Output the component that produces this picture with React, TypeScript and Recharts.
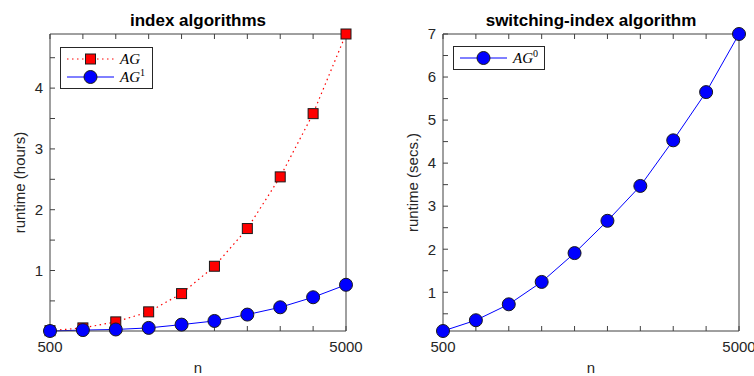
import { Label, Legend, Line, LineChart, XAxis, YAxis } from "recharts";

const nValues = [500, 1000, 1500, 2000, 2500, 3000, 3500, 4000, 4500, 5000];
const agHours = [0.01, 0.056, 0.155, 0.32, 0.62, 1.07, 1.69, 2.54, 3.58, 4.89];
const ag1Hours = [0.005, 0.02, 0.03, 0.056, 0.11, 0.17, 0.275, 0.395, 0.56, 0.765];
const ag0Secs = [0.1, 0.35, 0.72, 1.24, 1.91, 2.66, 3.47, 4.53, 5.65, 7.0];

const nLabels = [500, 5000];
const hourTicks = [0.5, 1, 1.5, 2, 2.5, 3, 3.5, 4, 4.5];
const secTicks = [0.5, 1, 1.5, 2, 2.5, 3, 3.5, 4, 4.5, 5, 5.5, 6, 6.5, 7];

const leftData = nValues.map((n, i) => ({ n, ag: agHours[i], ag1: ag1Hours[i] }));
const rightData = nValues.map((n, i) => ({ n, ag0: ag0Secs[i] }));

const FONT = '"Liberation Sans", Arial, Helvetica, sans-serif';
const AXIS = "#404040";
const TEXT = "#262626";
const tickStyle = { fontSize: 15, fill: TEXT, fontFamily: FONT };

const xDomain: [number, number] = [Math.min(...nValues), Math.max(...nValues)];
const hourDomain: [number, number] = [Math.min(...agHours, ...ag1Hours), Math.max(...agHours, ...ag1Hours)];
const secDomain: [number, number] = [Math.min(...ag0Secs), Math.max(...ag0Secs)];

const nFmt = (v: number) => (nLabels.includes(v) ? String(v) : "");
const intFmt = (v: number) => (Number.isInteger(v) ? String(v) : "");
const blank = () => "";

const Square = (props: any) => {
  const { cx, cy, index } = props;
  if (cx == null || cy == null) return <g key={index} />;
  return <rect key={index} x={cx - 5} y={cy - 5} width={10} height={10} fill="#ff0000" stroke="#1a1a1a" strokeWidth={1} />;
};

const circleDot = { r: 6.5, fill: "#0000ff", stroke: "#1a1a1a", strokeWidth: 1 };

const yLabel = (text: string, cx: number) => (props: any) => {
  const vb = props.viewBox;
  const cy = vb.y + vb.height / 2;
  return (
    <text x={cx} y={cy} transform={`rotate(-90 ${cx} ${cy})`} textAnchor="middle" dominantBaseline="central"
      fontSize={15} fill={TEXT} fontFamily={FONT}>
      {text}
    </text>
  );
};

type Row = { label: string; sup: string; kind: "square" | "circle"; color: string; dotted?: boolean };

function BoxLegend({ rows, width }: { rows: Row[]; width: number }) {
  return (
    <div style={{ width, boxSizing: "border-box", border: "1px solid #262626", background: "#fff", padding: "2px 0 2px 6px" }}>
      {rows.map((r) => (
        <div key={r.label + r.sup} style={{ display: "flex", alignItems: "center", height: 18 }}>
          <svg width={47} height={18}>
            <line x1={0} y1={9} x2={47} y2={9} stroke={r.color} strokeWidth={1} strokeDasharray={r.dotted ? "1.5 3.5" : undefined} />
            {r.kind === "square" ? (
              <rect x={18.5} y={4} width={10} height={10} fill="#ff0000" stroke="#1a1a1a" />
            ) : (
              <circle cx={23.5} cy={9} r={6.5} fill="#0000ff" stroke="#1a1a1a" />
            )}
          </svg>
          <span style={{ marginLeft: 6, fontFamily: '"Liberation Serif", serif', fontStyle: "italic", fontSize: 15, color: "#000", lineHeight: "18px" }}>
            {r.label}
            <sup style={{ fontSize: 10, fontStyle: "normal", lineHeight: 0 }}>{r.sup}</sup>
          </span>
        </div>
      ))}
    </div>
  );
}

function Panel({ data, yDomain, yTicks, title, ylabel, ylabelX, yWidth, marginRight, legend, legendPos, children }: any) {
  return (
    <LineChart width={377} height={376} data={data} margin={{ top: 33, right: marginRight - 1, bottom: 0, left: 0 }}>
      <XAxis dataKey="n" type="number" domain={xDomain} ticks={nValues} interval={0} tickFormatter={nFmt}
        height={45} tickSize={-5} tickMargin={15} stroke={AXIS} tick={tickStyle}>
        <Label value="n" position="insideBottom" offset={3} style={{ fontSize: 15, fill: TEXT, fontFamily: FONT }} />
      </XAxis>
      <XAxis xAxisId="top" orientation="top" dataKey="n" type="number" domain={xDomain} ticks={nValues} interval={0}
        tickFormatter={blank} height={1} tickSize={-5} stroke={AXIS} tick={tickStyle}>
        <Label value={title} position="top" offset={7} style={{ fontSize: 17, fontWeight: "bold", fill: "#000", fontFamily: FONT }} />
      </XAxis>
      <YAxis type="number" domain={yDomain} ticks={yTicks} interval={0} tickFormatter={intFmt}
        width={yWidth} tickSize={-5} tickMargin={12} stroke={AXIS} tick={tickStyle}>
        <Label content={yLabel(ylabel, ylabelX)} />
      </YAxis>
      <YAxis yAxisId="right" orientation="right" type="number" domain={yDomain} ticks={yTicks} interval={0}
        tickFormatter={blank} width={1} tickSize={-5} stroke={AXIS} tick={tickStyle} />
      {children}
      <Legend layout="vertical" align="center" verticalAlign="middle"
        wrapperStyle={{ left: legendPos[0], top: legendPos[1], width: "auto", height: "auto" }}
        content={() => legend} />
    </LineChart>
  );
}

export default function App() {
  return (
    <div style={{ position: "absolute", left: 0, top: 0, width: 754, height: 376, display: "flex", background: "#fff", fontFamily: FONT }}>
      <Panel data={leftData} yDomain={hourDomain} yTicks={hourTicks} title="index algorithms" ylabel="runtime (hours)"
        ylabelX={19} yWidth={50} marginRight={31} legendPos={[60, 47]}
        legend={<BoxLegend width={93} rows={[
          { label: "AG", sup: "", kind: "square", color: "#ff0000", dotted: true },
          { label: "AG", sup: "1", kind: "circle", color: "#0000ff" },
        ]} />}>
        <Line dataKey="ag" name="AG" stroke="#ff0000" strokeWidth={1.2} strokeDasharray="1.5 3.5" dot={Square} isAnimationActive={false} />
        <Line dataKey="ag1" name="AG1" stroke="#0000ff" strokeWidth={1} dot={circleDot} isAnimationActive={false} />
      </Panel>
      <Panel data={rightData} yDomain={secDomain} yTicks={secTicks} title="switching-index algorithm" ylabel="runtime (secs.)"
        ylabelX={35} yWidth={66} marginRight={15} legendPos={[76, 46]}
        legend={<BoxLegend width={92} rows={[{ label: "AG", sup: "0", kind: "circle", color: "#0000ff" }]} />}>
        <Line dataKey="ag0" name="AG0" stroke="#0000ff" strokeWidth={1} dot={circleDot} isAnimationActive={false} />
      </Panel>
    </div>
  );
}
